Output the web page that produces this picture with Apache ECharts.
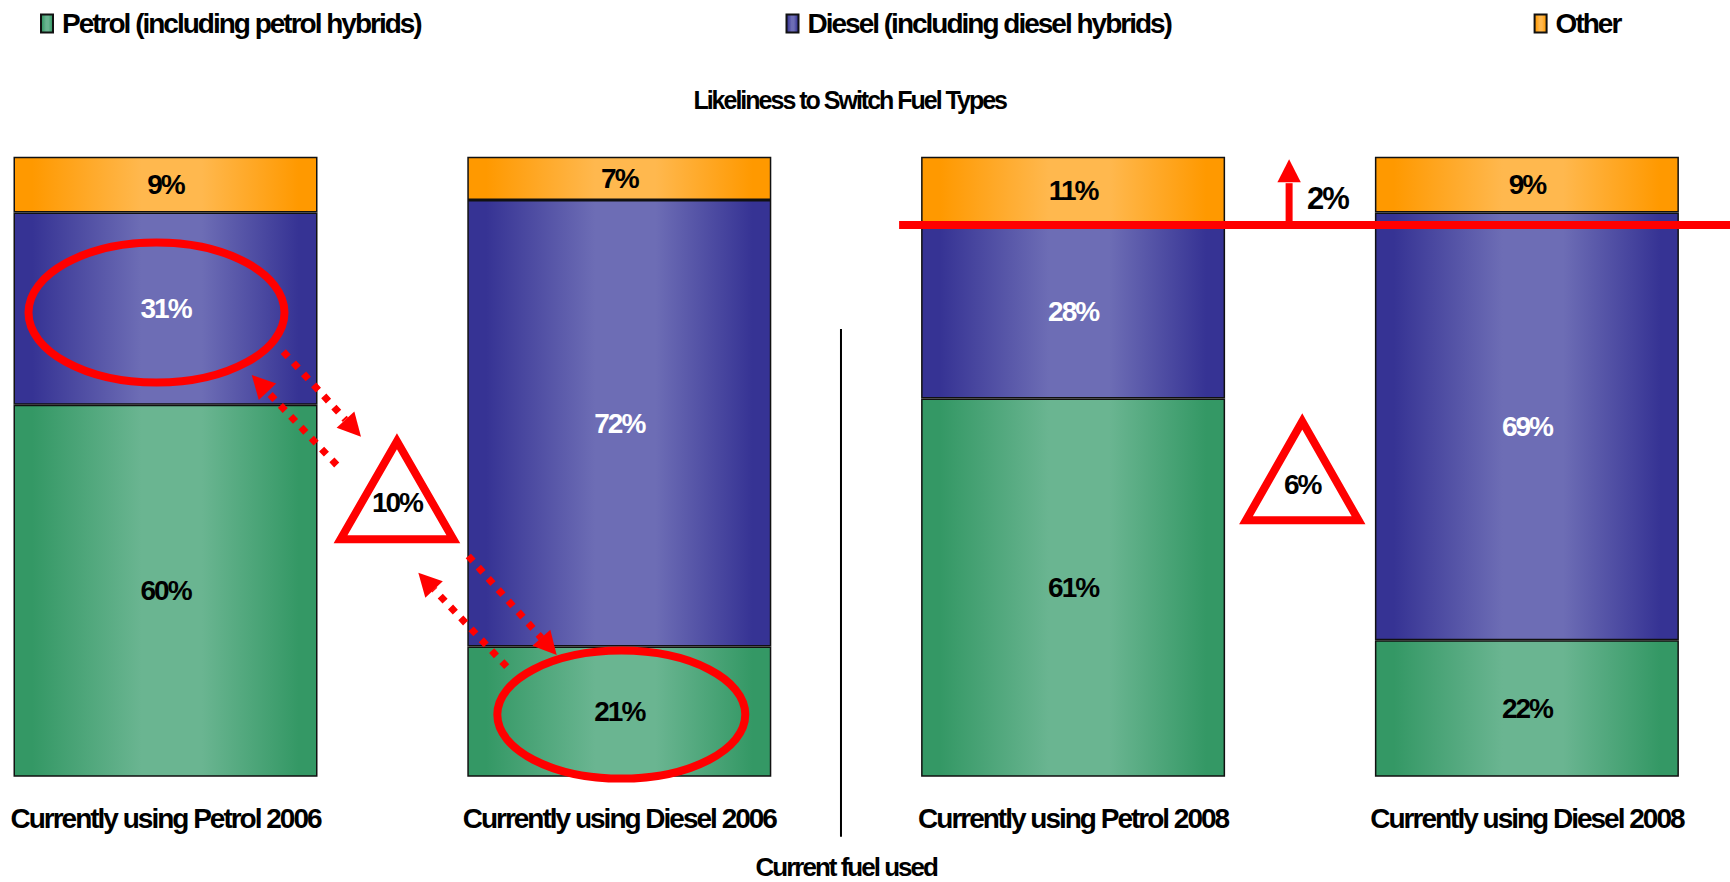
<!DOCTYPE html>
<html>
<head>
<meta charset="utf-8">
<title>Likeliness to Switch Fuel Types</title>
<script src="https://cdn.jsdelivr.net/npm/echarts@6/dist/echarts.min.js"></script>
<style>
  html, body { margin: 0; padding: 0; background: #ffffff; }
  /* tight, condensed lettering for all chart text */
  #chart { width: 1730px; height: 882px; letter-spacing: -2px; }
</style>
</head>
<body>
<div id="chart"></div>
<script>
// Share of respondents likely to switch to each fuel type, by fuel currently used (%)
const categories = [
  'Currently using Petrol 2006',
  'Currently using Diesel 2006',
  'Currently using Petrol 2008',
  'Currently using Diesel 2008'
];
const seriesNames = [
  'Petrol (including petrol hybrids)',
  'Diesel (including diesel hybrids)',
  'Other'
];
const petrol = [60, 21, 61, 22];
const diesel = [31, 72, 28, 69];
const other  = [9, 7, 11, 9];

const FONT = "'Liberation Sans', Arial, sans-serif";
const RED = '#ff0000';
const BAR_WIDTH = 304;

// horizontal shading: darker at the edges, lighter towards the middle
function shade(dark, light) {
  return {
    type: 'linear', x: 0, y: 0, x2: 1, y2: 0,
    colorStops: [
      { offset: 0, color: dark },
      { offset: 0.06, color: dark },
      { offset: 0.42, color: light },
      { offset: 0.62, color: light },
      { offset: 0.94, color: dark },
      { offset: 1, color: dark }
    ]
  };
}

function barSeries(name, values, fill, labelColor) {
  return {
    name: name,
    type: 'bar',
    stack: 'fuel',
    barWidth: BAR_WIDTH,
    data: values,
    itemStyle: { color: fill, borderColor: '#111111', borderWidth: 1.5 },
    label: {
      show: true,
      position: 'inside',
      formatter: '{c}%',
      fontFamily: FONT,
      fontWeight: 'bold',
      fontSize: 28,
      color: labelColor
    },
    emphasis: { disabled: true }
  };
}

const legendBase = {
  icon: 'rect',
  itemWidth: 12,
  itemHeight: 18,
  top: 9,
  padding: 0,
  selectedMode: false,
  textStyle: {
    fontFamily: FONT, fontWeight: 'bold', fontSize: 28, lineHeight: 29,
    color: '#000000', padding: [0, 0, 0, 4]
  }
};

const chart = echarts.init(document.getElementById('chart'), null, { renderer: 'svg' });

chart.setOption({
  animation: false,
  backgroundColor: '#ffffff',
  title: {
    text: 'Likeliness to Switch Fuel Types',
    left: 849.7,
    top: 87,
    padding: 0,
    textAlign: 'center',
    textStyle: {
      fontFamily: FONT, fontWeight: 'bold', fontSize: 25, lineHeight: 25, color: '#000000'
    }
  },
  legend: [
    Object.assign({}, legendBase, { data: [seriesNames[0]], left: 40 }),
    Object.assign({}, legendBase, { data: [seriesNames[1]], left: 785.5 }),
    Object.assign({}, legendBase, { data: [seriesNames[2]], left: 1533.6 })
  ],
  grid: {
    left: -61.4,
    width: 1815.2,
    top: 156.7,
    height: 620,
    containLabel: false,
    outerBoundsMode: 'none'
  },
  xAxis: {
    type: 'category',
    data: categories,
    axisLine: { show: false },
    axisTick: { show: false },
    splitLine: { show: false },
    axisLabel: {
      interval: 0,
      margin: 28,
      fontFamily: FONT, fontWeight: 'bold', fontSize: 28, lineHeight: 28, color: '#000000'
    },
    name: 'Current fuel used',
    nameLocation: 'middle',
    nameGap: 77,
    nameTextStyle: {
      fontFamily: FONT, fontWeight: 'bold', fontSize: 26, lineHeight: 26, color: '#000000'
    }
  },
  yAxis: {
    type: 'value',
    min: 0,
    max: 100,
    show: false,
    splitLine: { show: false }
  },
  series: [
    barSeries(seriesNames[0], petrol, shade('#349865', '#6ab591'), '#000000'),
    barSeries(seriesNames[1], diesel, shade('#363394', '#6d6db5'), '#ffffff'),
    barSeries(seriesNames[2], other,  shade('#ff9900', '#ffb84e'), '#000000')
  ]
});

// Map (category position, percentage) to pixels through the chart's own axes.
const xA = chart.convertToPixel({ xAxisIndex: 0 }, 0);
const xB = chart.convertToPixel({ xAxisIndex: 0 }, 1);
const y0 = chart.convertToPixel({ yAxisIndex: 0 }, 0);
const y100 = chart.convertToPixel({ yAxisIndex: 0 }, 100);
function P(ci, v) {
  return [xA + ci * (xB - xA), y0 + (v / 100) * (y100 - y0)];
}

const Z = 100;
const graphics = [];

// divider between the 2006 and 2008 groups
const dTop = P(1.4885, 72.2), dBot = P(1.4885, -9.7);
graphics.push({
  type: 'line', z: Z,
  shape: { x1: dTop[0], y1: dTop[1], x2: dBot[0], y2: dBot[1] },
  style: { stroke: '#000000', lineWidth: 2 }
});

// ellipses highlighting the switching shares
const e1 = P(0, petrol[0] + diesel[0] / 2);
graphics.push({
  type: 'ellipse', z: Z,
  shape: { cx: e1[0] - 9, cy: e1[1] + 4, rx: 128, ry: 70 },
  style: { fill: 'none', stroke: RED, lineWidth: 8 }
});
const e2 = P(1, petrol[1] / 2);
graphics.push({
  type: 'ellipse', z: Z,
  shape: { cx: e2[0] + 2, cy: e2[1] + 3, rx: 124, ry: 64 },
  style: { fill: 'none', stroke: RED, lineWidth: 8 }
});

// warning triangles carrying the gap between the two switching shares
function warning(ci, vBase, vApex, vText, halfWidth, text) {
  const apex = P(ci, vApex), base = P(ci, vBase), t = P(ci, vText);
  graphics.push({
    type: 'polygon', z: Z,
    shape: { points: [[apex[0], apex[1]], [base[0] + halfWidth, base[1]], [base[0] - halfWidth, base[1]]] },
    style: { fill: '#ffffff', stroke: RED, lineWidth: 8, lineJoin: 'miter' }
  });
  graphics.push({
    type: 'text', z: Z + 1,
    style: {
      text: text, x: t[0], y: t[1], align: 'center', verticalAlign: 'middle',
      font: 'bold 28px ' + FONT, fill: '#000000'
    }
  });
}
warning(0.51, 38.3, 54.1, 44.2, 56.4, (diesel[0] - petrol[1]) + '%');
warning(2.505, 41.35, 57.3, 47.05, 56.3, (diesel[2] - petrol[3]) + '%');

// dotted arrows linking the 2006 switching shares
function arrowHead(tail, tip, len, half) {
  const dx = tip[0] - tail[0], dy = tip[1] - tail[1];
  const d = Math.hypot(dx, dy), ux = dx / d, uy = dy / d;
  const bx = tip[0] - ux * len, by = tip[1] - uy * len;
  return { base: [bx, by], points: [[tip[0], tip[1]], [bx - uy * half, by + ux * half], [bx + uy * half, by - ux * half]] };
}
const dotted = [
  [0.2596, 68.55, 0.4308, 54.84],
  [0.3773, 50.27, 0.19, 64.79],
  [0.6673, 35.6, 0.862, 19.63],
  [0.7519, 17.74, 0.5571, 32.9]
];
dotted.forEach(function (a) {
  const tail = P(a[0], a[1]), tip = P(a[2], a[3]);
  const head = arrowHead(tail, tip, 23, 12);
  graphics.push({
    type: 'line', z: Z,
    shape: { x1: tail[0], y1: tail[1], x2: head.base[0], y2: head.base[1] },
    style: { stroke: RED, lineWidth: 7, lineDash: [7, 8], lineCap: 'butt' }
  });
  graphics.push({
    type: 'polygon', z: Z,
    shape: { points: head.points },
    style: { fill: RED }
  });
});

// level of the 2008 petrol users' petrol + diesel share, and the rise in "Other"
const levelV = petrol[2] + diesel[2];
const lv = P(2, levelV);
graphics.push({
  type: 'line', z: Z,
  shape: { x1: lv[0] - BAR_WIDTH / 2 - 22, y1: lv[1], x2: chart.getWidth(), y2: lv[1] },
  style: { stroke: RED, lineWidth: 8 }
});
const upBase = P(2.476, levelV), upTip = P(2.476, 99.6);
const up = arrowHead(upBase, upTip, 23, 11.7);
graphics.push({
  type: 'line', z: Z,
  shape: { x1: upBase[0], y1: upBase[1], x2: up.base[0], y2: up.base[1] + 1 },
  style: { stroke: RED, lineWidth: 7 }
});
graphics.push({ type: 'polygon', z: Z, shape: { points: up.points }, style: { fill: RED } });
const riseAt = P(2.5154, 93.25);
graphics.push({
  type: 'text', z: Z,
  style: {
    text: (other[2] - other[3]) + '%', x: riseAt[0], y: riseAt[1],
    align: 'left', verticalAlign: 'middle', font: 'bold 31px ' + FONT, fill: '#000000'
  }
});

chart.setOption({ graphic: { elements: graphics } });
</script>
</body>
</html>
